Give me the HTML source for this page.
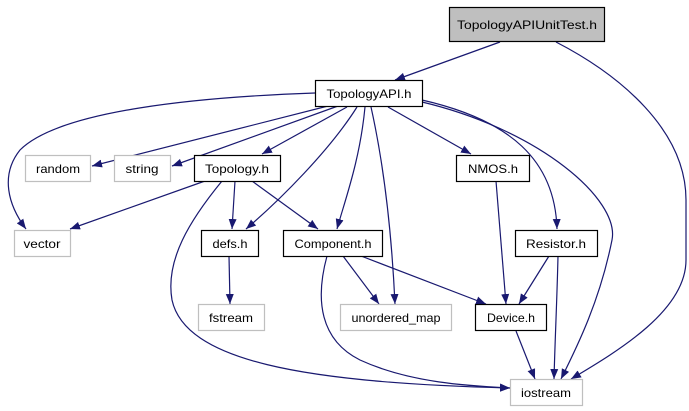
<!DOCTYPE html>
<html><head><meta charset="utf-8"><style>
html,body{margin:0;padding:0;background:#fff;}
svg{display:block;}
text{font-family:"Liberation Sans",sans-serif;font-size:12px;}
</style></head><body>
<svg width="689" height="411" viewBox="0 0 689 411" xmlns="http://www.w3.org/2000/svg">
<defs>
<marker id="a" viewBox="0 0 10 10" refX="10" refY="5" markerWidth="10" markerHeight="10" markerUnits="userSpaceOnUse" orient="auto">
<path d="M0,1 L10,5 L0,9 Z" fill="#191970"/>
</marker>
</defs>
<g fill="none" stroke="#191970" stroke-width="1.2" marker-end="url(#a)">
<path d="M500,42 L395,80"/>
<path d="M556,42 C620,75 686,130 686,200 L686,260 C686,310 620,350 571,379"/>
<path d="M328,106 L92,166"/>
<path d="M338,106 L172,166"/>
<path d="M347,107 L262,154"/>
<path d="M315,93 C200,97 60,110 20,150 C0,175 8,205 26,229"/>
<path d="M205,181 L70,229"/>
<path d="M222,181 C190,220 165,260 172,300 C185,360 300,383 510,388"/>
<path d="M235,181 L232,229"/>
<path d="M357,107 C330,150 280,200 246,229"/>
<path d="M252,181 L318,229"/>
<path d="M365,107 C360,160 345,200 337,229"/>
<path d="M371,107 C385,170 392,240 395,304"/>
<path d="M388,107 L471,154"/>
<path d="M496,181 L506,304"/>
<path d="M422,100 C510,120 555,160 557,229"/>
<path d="M422,102 C540,130 620,200 612,240 C600,300 578,345 561,379"/>
<path d="M549,256 L519,304"/>
<path d="M558,256 C557,300 555,340 554,379"/>
<path d="M516,331 L535,379"/>
<path d="M343,256 L379,304"/>
<path d="M361,256 L486,304"/>
<path d="M327,256 C315,300 320,340 360,360 C410,383 470,386 510,388"/>
<path d="M229,256 L230,304"/>
</g>
<g stroke-width="1.2">
<rect x="449.5" y="7.5" width="155" height="34" fill="#bfbfbf" stroke="#000"/>
<rect x="315.5" y="80.5" width="107" height="26" fill="#fff" stroke="#000"/>
<rect x="25.5" y="155.5" width="65" height="26" fill="#fff" stroke="#bfbfbf"/>
<rect x="114.5" y="155.5" width="56" height="26" fill="#fff" stroke="#bfbfbf"/>
<rect x="194.5" y="155.5" width="86" height="26" fill="#fff" stroke="#000"/>
<rect x="456.5" y="155.5" width="73" height="26" fill="#fff" stroke="#000"/>
<rect x="14.5" y="230.5" width="56" height="26" fill="#fff" stroke="#bfbfbf"/>
<rect x="201.5" y="230.5" width="57" height="26" fill="#fff" stroke="#000"/>
<rect x="283.5" y="230.5" width="99" height="26" fill="#fff" stroke="#000"/>
<rect x="515.5" y="230.5" width="82" height="26" fill="#fff" stroke="#000"/>
<rect x="198.5" y="304.5" width="66" height="26" fill="#fff" stroke="#bfbfbf"/>
<rect x="340.5" y="304.5" width="111" height="26" fill="#fff" stroke="#bfbfbf"/>
<rect x="475.5" y="304.5" width="71" height="26" fill="#fff" stroke="#000"/>
<rect x="510.5" y="379.5" width="72" height="26" fill="#fff" stroke="#bfbfbf"/>
</g>
<g fill="#000" text-anchor="middle">
<text x="527" y="29" textLength="140" lengthAdjust="spacingAndGlyphs">TopologyAPIUnitTest.h</text>
<text x="369" y="98" textLength="85" lengthAdjust="spacingAndGlyphs">TopologyAPI.h</text>
<text x="58" y="173" textLength="44" lengthAdjust="spacingAndGlyphs">random</text>
<text x="142" y="173" textLength="33" lengthAdjust="spacingAndGlyphs">string</text>
<text x="237" y="173" textLength="64" lengthAdjust="spacingAndGlyphs">Topology.h</text>
<text x="493" y="173" textLength="50" lengthAdjust="spacingAndGlyphs">NMOS.h</text>
<text x="42" y="248" textLength="37" lengthAdjust="spacingAndGlyphs">vector</text>
<text x="230" y="248" textLength="35" lengthAdjust="spacingAndGlyphs">defs.h</text>
<text x="333" y="248" textLength="77" lengthAdjust="spacingAndGlyphs">Component.h</text>
<text x="556" y="248" textLength="60" lengthAdjust="spacingAndGlyphs">Resistor.h</text>
<text x="231" y="322" textLength="44" lengthAdjust="spacingAndGlyphs">fstream</text>
<text x="396" y="322" textLength="89" lengthAdjust="spacingAndGlyphs">unordered_map</text>
<text x="511" y="322" textLength="48" lengthAdjust="spacingAndGlyphs">Device.h</text>
<text x="546" y="397" textLength="50" lengthAdjust="spacingAndGlyphs">iostream</text>
</g>
</svg>
</body></html>
